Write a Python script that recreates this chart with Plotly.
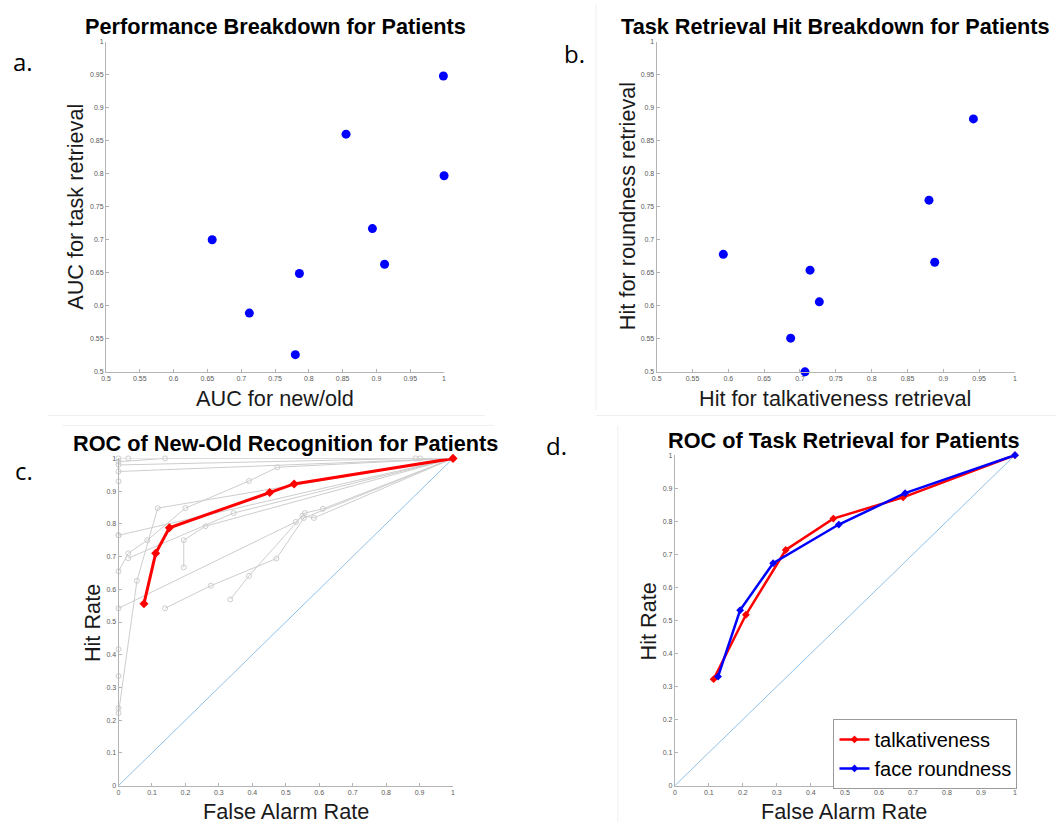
import plotly.graph_objects as go

# ---------------- data ----------------
# (a) per-patient AUCs
auc_newold = [0.999, 0.855, 1.000, 0.894, 0.657, 0.912, 0.786, 0.712, 0.780]
auc_task = [0.948, 0.860, 0.797, 0.717, 0.700, 0.663, 0.649, 0.589, 0.526]

# (b) per-patient hit rates for the two retrieval tasks
hit_talk = [0.942, 0.880, 0.593, 0.888, 0.714, 0.727, 0.687, 0.707]
hit_round = [0.883, 0.760, 0.678, 0.666, 0.654, 0.606, 0.551, 0.500]

# (c) individual patient ROC curves (false alarm, hit)
patient_fa = [
    [0.0, 0.139, 1.0],
    [0.0, 0.029, 0.902, 1.0],
    [0.0, 0.888, 1.0],
    [0.0, 0.055, 0.117, 1.0],
    [0.0, 0.029, 0.086, 0.200, 0.390, 0.475, 1.0],
    [0.0, 0.0, 0.0, 0.0, 0.0, 0.0, 1.0],
    [0.029, 0.344, 1.0],
    [0.195, 0.195, 0.260, 1.0],
    [0.0, 0.530, 0.557, 0.611, 1.0],
    [0.139, 0.276, 0.472, 0.554, 1.0],
    [0.334, 0.390, 0.550, 0.584, 1.0],
    [0.0, 1.0],
]
patient_hit = [
    [0.990, 1.0, 1.0],
    [1.0, 1.0, 1.0, 1.0],
    [0.980, 1.0, 1.0],
    [0.222, 0.626, 0.848, 1.0],
    [0.655, 0.710, 0.750, 0.848, 0.931, 0.973, 1.0],
    [0.237, 0.335, 0.417, 0.765, 0.930, 0.960, 1.0],
    [0.695, 0.833, 1.0],
    [0.667, 0.750, 0.793, 1.0],
    [0.542, 0.806, 0.833, 0.846, 1.0],
    [0.542, 0.611, 0.694, 0.818, 1.0],
    [0.569, 0.641, 0.825, 0.818, 1.0],
    [0.765, 1.0],
]
# (c) group mean ROC
mean_fa = [0.076, 0.111, 0.152, 0.452, 0.525, 1.0]
mean_hit = [0.556, 0.710, 0.788, 0.896, 0.922, 1.0]

# (d) task retrieval ROC
talk_fa = [0.114, 0.209, 0.326, 0.466, 0.671, 1.0]
talk_hit = [0.322, 0.517, 0.713, 0.808, 0.872, 1.0]
round_fa = [0.127, 0.192, 0.289, 0.482, 0.677, 1.0]
round_hit = [0.330, 0.531, 0.673, 0.790, 0.885, 1.0]

chance = [0, 1]

ticks_fine = [0.5, 0.55, 0.6, 0.65, 0.7, 0.75, 0.8, 0.85, 0.9, 0.95, 1.0]
ticks_fine_text = ["0.5", "0.55", "0.6", "0.65", "0.7", "0.75", "0.8", "0.85", "0.9", "0.95", "1"]
ticks_unit = [0, 0.1, 0.2, 0.3, 0.4, 0.5, 0.6, 0.7, 0.8, 0.9, 1.0]
ticks_unit_text = ["0", "0.1", "0.2", "0.3", "0.4", "0.5", "0.6", "0.7", "0.8", "0.9", "1"]

# ---------------- layout helpers ----------------
W, H = 1058, 825


def fx(p):
    return p / W


def fy(p):
    return 1 - p / H


BLUE = "#0000ff"
RED = "#ff0000"
GREY = "#cdcdcd"
DIAG = "#8fc0e8"

fig = go.Figure()

# (a)
fig.add_trace(go.Scatter(x=auc_newold, y=auc_task, mode="markers",
                         marker=dict(color=BLUE, size=9), cliponaxis=False,
                         xaxis="x", yaxis="y", showlegend=False))
# (b)
fig.add_trace(go.Scatter(x=hit_talk, y=hit_round, mode="markers",
                         marker=dict(color=BLUE, size=9), cliponaxis=False,
                         xaxis="x2", yaxis="y2", showlegend=False))
# (c)
for fa, hit in zip(patient_fa, patient_hit):
    fig.add_trace(go.Scatter(x=fa, y=hit, mode="lines+markers",
                             line=dict(color=GREY, width=1),
                             marker=dict(symbol="circle-open", size=5, color=GREY,
                                         line=dict(width=1, color=GREY)),
                             cliponaxis=False, xaxis="x3", yaxis="y3", showlegend=False))
fig.add_trace(go.Scatter(x=chance, y=chance, mode="lines",
                         line=dict(color=DIAG, width=1),
                         xaxis="x3", yaxis="y3", showlegend=False))
fig.add_trace(go.Scatter(x=mean_fa, y=mean_hit, mode="lines+markers",
                         line=dict(color=RED, width=3),
                         marker=dict(symbol="diamond", size=7, color=RED),
                         cliponaxis=False, xaxis="x3", yaxis="y3", showlegend=False))
# (d)
fig.add_trace(go.Scatter(x=chance, y=chance, mode="lines",
                         line=dict(color=DIAG, width=1),
                         xaxis="x4", yaxis="y4", showlegend=False))
fig.add_trace(go.Scatter(x=talk_fa, y=talk_hit, mode="lines+markers", name="talkativeness",
                         line=dict(color=RED, width=2.5),
                         marker=dict(symbol="diamond", size=6, color=RED),
                         cliponaxis=False, xaxis="x4", yaxis="y4"))
fig.add_trace(go.Scatter(x=round_fa, y=round_hit, mode="lines+markers", name="face roundness",
                         line=dict(color=BLUE, width=2.5),
                         marker=dict(symbol="diamond", size=6, color=BLUE),
                         cliponaxis=False, xaxis="x4", yaxis="y4"))

axis_common = dict(showline=True, linecolor="#b4b4b4", linewidth=1, mirror=False,
                   showgrid=False, zeroline=False, ticks="inside", ticklen=3,
                   tickcolor="#b4b4b4", tickfont=dict(family="Liberation Sans, Arial", size=7, color="#5a5a5a"),
                   fixedrange=True)


def ax(domain, anchor, vals, text, rng):
    d = dict(axis_common)
    d.update(domain=domain, anchor=anchor, tickvals=vals, ticktext=text, range=rng)
    return d


fig.update_layout(
    width=W, height=H, margin=dict(l=0, r=0, t=0, b=0),
    paper_bgcolor="white", plot_bgcolor="white",
    xaxis=ax([fx(101.7), fx(442)], "y", ticks_fine, ticks_fine_text, [0.5, 1]),
    yaxis=ax([fy(371), fy(38)], "x", ticks_fine, ticks_fine_text, [0.5, 1]),
    xaxis2=ax([fx(656), fx(1016.7)], "y2", ticks_fine, ticks_fine_text, [0.5, 1]),
    yaxis2=ax([fy(371), fy(38)], "x2", ticks_fine, ticks_fine_text, [0.5, 1]),
    xaxis3=ax([fx(114.3), fx(451)], "y3", ticks_unit, ticks_unit_text, [0, 1]),
    yaxis3=ax([fy(788.3), fy(458.3)], "x3", ticks_unit, ticks_unit_text, [0, 1]),
    xaxis4=ax([fx(674.3), fx(1016.7)], "y4", ticks_unit, ticks_unit_text, [0, 1]),
    yaxis4=ax([fy(788.3), fy(455)], "x4", ticks_unit, ticks_unit_text, [0, 1]),
    legend=dict(x=fx(834), y=fy(721), xanchor="left", yanchor="top",
                bgcolor="white", bordercolor="#9a9a9a", borderwidth=1,
                font=dict(family="Liberation Sans, Arial", size=20, color="black"),
                itemwidth=30, tracegroupgap=0),
)

TITLE_FONT = dict(family="Liberation Sans, Arial", size=21.7, color="black", weight="bold")
LABEL_FONT = dict(family="Liberation Sans, Arial", size=21.7, color="#1a1a1a")
LETTER_FONT = dict(family="Open Sans, Noto Sans", size=24, color="black")

annotations = [
    # panel titles
    ("Performance Breakdown for Patients", 272, 23, 0, TITLE_FONT),
    ("Task Retrieval Hit Breakdown for Patients", 836, 23, 0, TITLE_FONT),
    ("ROC of New-Old Recognition for Patients", 282, 443, 0, TITLE_FONT),
    ("ROC of Task Retrieval for Patients", 845, 440, 0, TITLE_FONT),
    # axis titles
    ("AUC for new/old", 272, 398, 0, LABEL_FONT),
    ("AUC for task retrieval", 71, 205, -90, LABEL_FONT),
    ("Hit for talkativeness retrieval", 836, 398, 0, LABEL_FONT),
    ("Hit for roundness retrieval", 626, 204, -90, LABEL_FONT),
    ("False Alarm Rate", 283, 814, 0, LABEL_FONT),
    ("Hit Rate", 88, 624, -90, LABEL_FONT),
    ("False Alarm Rate", 845, 814, 0, LABEL_FONT),
    ("Hit Rate", 648, 623, -90, LABEL_FONT),
    # panel letters
    ("a.", 18, 58, 0, LETTER_FONT),
    ("b.", 573, 50, 0, LETTER_FONT),
    ("c.", 19, 470, 0, LETTER_FONT),
    ("d.", 555, 445, 0, LETTER_FONT),
]
for text, x, y, ang, font in annotations:
    fig.add_annotation(text=text, x=fx(x), y=fy(y), xref="paper", yref="paper",
                       xanchor="center", yanchor="middle", showarrow=False,
                       textangle=ang, font=font)

# faint frame edges separating the panels
edge = dict(color="#efefef", width=1)
fig.add_shape(type="line", xref="paper", yref="paper", x0=fx(595), x1=fx(595), y0=fy(0), y1=fy(410), line=edge)
fig.add_shape(type="line", xref="paper", yref="paper", x0=fx(43), x1=fx(483), y0=fy(415), y1=fy(415), line=edge)
fig.add_shape(type="line", xref="paper", yref="paper", x0=fx(58), x1=fx(492), y0=fy(425), y1=fy(425), line=edge)
fig.add_shape(type="line", xref="paper", yref="paper", x0=fx(595), x1=fx(1058), y0=fy(415), y1=fy(415), line=edge)
fig.add_shape(type="line", xref="paper", yref="paper", x0=fx(617), x1=fx(617), y0=fy(425), y1=fy(825), line=edge)

fig.write_html("out.html")
